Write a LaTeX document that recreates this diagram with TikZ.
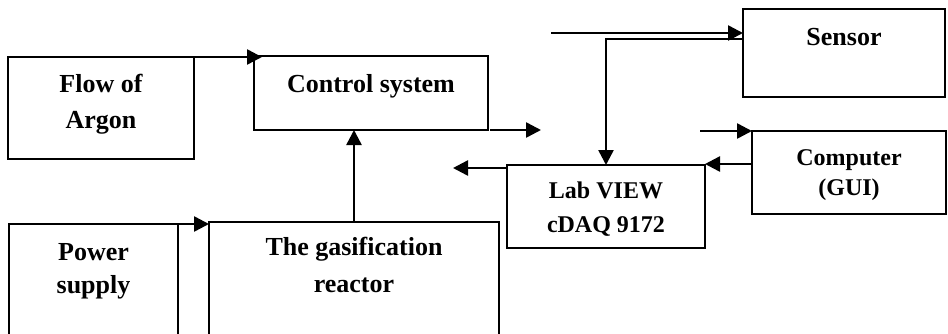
\documentclass[tikz,border=0pt]{standalone}
\usepackage{fontspec}
\setmainfont{Liberation Serif}
\usetikzlibrary{arrows.meta,positioning,calc}

\tikzset{
    blockbox/.style={draw=black, line width=2pt, inner sep=0pt, outer sep=0pt, anchor=north west},
    blocktxt/.style={align=center, inner sep=0pt, anchor=base, font=\fontsize{26}{36}\selectfont\bfseries},
    smalltxt/.style={blocktxt, font=\fontsize{24}{34}\selectfont\bfseries},
    arr/.style={line width=2.5pt, -{Triangle[length=15pt,width=15pt]}},
}

\begin{document}
\begin{tikzpicture}[x=1pt, y=-1pt]

    % 0. page frame, boxes at the bottom run off the page
    \useasboundingbox (0,0) rectangle (948,333);
    \clip (0,0) rectangle (948,333);

    % 1. boxes of the left column (text: base = last line)
    \node (flow) at (8,57) [blockbox, minimum width=186pt, minimum height=102pt] {};
    \node (flowtxt) at ([yshift=-71pt]flow.north) [blocktxt] {Flow of\\Argon};

    \node (power) at (9,224) [blockbox, minimum width=169pt, minimum height=130pt] {};
    \node (powertxt) at ([yshift=-69pt]power.north) [blocktxt, font=\fontsize{26}{33}\selectfont\bfseries] {Power\\supply};

    % 2. control system and reactor
    \node (control) at (254,56) [blockbox, minimum width=234pt, minimum height=74pt] {};
    \node (controltxt) at ([yshift=-36pt]control.north) [blocktxt] {Control system};

    \node (reactor) at (209,222) [blockbox, minimum width=290pt, minimum height=130pt] {};
    \node (reactortxt) at ([yshift=-70pt]reactor.north) [blocktxt, font=\fontsize{26}{37}\selectfont\bfseries] {The gasification\\reactor};

    % 3. data acquisition side
    \node (sensor) at (743,9) [blockbox, minimum width=202pt, minimum height=88pt] {};
    \node (sensortxt) at ([yshift=-36pt]sensor.north) [blocktxt] {Sensor};

    \node (labview) at (507,165) [blockbox, minimum width=198pt, minimum height=83pt] {};
    \node (labviewtxt) at ([yshift=-67pt]labview.north) [smalltxt] {Lab VIEW\\cDAQ 9172};

    \node (computer) at (752,131) [blockbox, minimum width=194pt, minimum height=83pt] {};
    \node (computertxt) at ([yshift=-64pt]computer.north) [smalltxt, font=\fontsize{24}{30}\selectfont\bfseries] {Computer\\(GUI)};

    % 4. loose arrow ends
    \coordinate (ctrlout) at (541,130);
    \coordinate (labout) at (453,168);
    \coordinate (sensin) at (551,33);
    \coordinate (sensout) at (743,39);
    \coordinate (compin) at (700,131);

    % 5. connectors
    \draw[arr] (flow.north east) -- ([xshift=8pt]flow.north east -| control.west);
    \draw[arr] (power.north east) -- (power.north east -| reactor.west);
    \draw[arr] (reactor.north) -- (reactor.north |- control.south);
    \draw[arr] ([xshift=2pt]control.south east) -- (control.south east -| ctrlout);
    \draw[arr] (labout -| labview.west) -- (labout);
    \draw[arr] (sensin) -- (sensin -| sensor.west);
    \draw[arr] (sensout) -| (labview.north);
    \draw[arr] (compin) -- (computer.north west);
    \draw[arr] ([yshift=1pt]labview.north east -| computer.west) -- ([yshift=1pt]labview.north east);

\end{tikzpicture}
\end{document}
